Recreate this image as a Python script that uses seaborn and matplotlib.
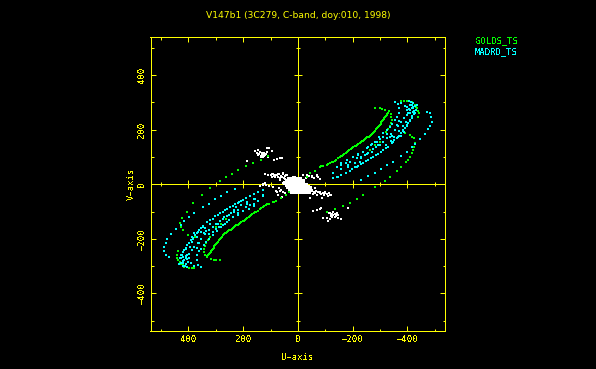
import matplotlib

matplotlib.use("Agg")
import matplotlib.pyplot as plt
import pandas as pd
import seaborn as sns

title = "V147b1 (3C279, C-band, doy:010, 1998)"
major_ticks = [-400, -200, 0, 200, 400]
minor_ticks = [-500, -300, -100, 100, 300, 500]

# GOLDS_TS
gold_u = [
    -32, -44, -62, -80, -92, -105, -117, -129, -139, -147, -157, -166, -175, -184, -193, -202, -211, -220,
    -229, -238, -246, -254, -262, -269, -277, -285, -292, -299, -305, -311, -316, -321, -327, -333,
    -318, -308, -299, -282, -338, -341, -343, -340, -336, -329, -321,
    -378, -388, -397, -406, -415, -421, -427, -432, -436, -440, -443, -439,
    -282, -319, -336, -360, -378, -394, -402, -409, -416, -421, -425, -427, -425, -418, -409, -391,
    -263, -281, -299, -238, -217, -190, -163, -135, -105,
    32, 44, 62, 80, 92, 105, 117, 129, 139, 147, 157, 166, 175, 184, 193, 202, 211, 220,
    229, 238, 246, 254, 262, 269, 277, 285, 292, 299, 305, 311, 316, 321, 327, 333,
    318, 308, 299, 285, 338, 341, 343, 340, 336, 329, 321,
    378, 388, 397, 406, 415, 421, 427, 432, 436, 440, 443, 439,
    321, 285, 264, 242, 218, 191, 165, 136, 108,
    351, 382, 406, 424, 431, 427, 418, 400, 376, 263, 281, 299,
]
gold_v = [
    28, 40, 50, 62, 66, 71, 77, 83, 90, 98, 102, 108, 116, 123, 130, 136, 142, 148,
    154, 160, 166, 172, 178, 183, 192, 202, 210, 218, 227, 236, 243, 251, 259, 267,
    273, 276, 278, 278, 258, 247, 236, 225, 214, 204, 193,
    307, 307, 307, 305, 302, 297, 291, 285, 279, 270, 260, 245,
    -11, 12, 25, 49, 62, 80, 90, 101, 113, 126, 138, 150, 168, 175, 180, 189,
    126, 144, 156, -40, -54, -67, -80, -92, -103,
    -28, -40, -50, -62, -66, -71, -77, -83, -90, -98, -102, -108, -116, -123, -130, -136, -142, -148,
    -154, -160, -166, -172, -178, -183, -192, -202, -210, -218, -227, -236, -243, -251, -259, -267,
    -273, -276, -278, -278, -258, -247, -236, -225, -214, -204, -193,
    -307, -307, -307, -305, -302, -297, -291, -285, -279, -270, -260, -245,
    -14, 13, 26, 38, 51, 67, 79, 89, 104,
    -39, -70, -100, -125, -143, -156, -168, -186, -192, -126, -144, -156,
]
# the solid stretch of the brightest green arc, both sides
gold_solid_u = [
    -86, -111, -123, -134, -152, -161, -170, -180, -188, -198, -207, -216, -225, -234, -242, -250, -258, -266,
    -273, -281, -289, -296, -302, -308, -314, -319, -324, -330,
    86, 111, 123, 134, 152, 161, 170, 180, 188, 198, 207, 216, 225, 234, 242, 250, 258, 266,
    273, 281, 289, 296, 302, 308, 314, 319, 324, 330,
]
gold_solid_v = [
    66, 74, 80, 86, 100, 105, 112, 120, 126, 133, 139, 145, 151, 157, 163, 169, 175, 180,
    187, 197, 206, 214, 222, 232, 240, 247, 255, 263,
    -66, -74, -80, -86, -100, -105, -112, -120, -126, -133, -139, -145, -151, -157, -163, -169, -175, -180,
    -187, -197, -206, -214, -222, -232, -240, -247, -255, -263,
]

# MADRD_TS
madrid_u = [
    -129, -144, -159, -175, -190, -208, -220, -238, -257, -275, -293, -311, -321, -330, -345, -352, -360, -368,
    -376, -383, -390, -397, -403, -409, -415, -423, -431, -427, -421, -409, -415, -427, -409, -397, -382,
    -354, -366, -370, -369, -360, -354, -344, -336, -324, -311, -297, -281, -265, -251, -236, -220, -202, -190,
    -175, -159, -144,
    -378, -391, -397, -397, -388, -378, -366, -354, -338, -324, -309, -293, -275, -257, -245, -232, -217, -184,
    -159, -129, -472, -482, -487, -488, -482, -476, -463, -445, -427, -415, -399, -378, -348, -326, -303,
    -281, -257, -230,
    129, 144, 159, 175, 190, 208, 220, 238, 257, 275, 293, 311, 321, 330, 345, 352, 360, 368,
    376, 383, 390, 397, 403, 409, 415, 423, 431, 427, 421, 409, 415, 427, 409, 397, 382,
    354, 366, 370, 369, 360, 354, 344, 336, 324, 311, 297, 281, 265, 251, 236, 220, 202, 190,
    175, 159, 144,
    378, 391, 397, 397, 388, 378, 366, 354, 338, 324, 309, 293, 275, 257, 245, 232, 217, 184,
    159, 129, 472, 482, 487, 488, 482, 476, 463, 445, 427, 415, 399, 378, 348, 326, 303,
    281, 257, 230,
]
madrid_v = [
    22, 28, 34, 42, 50, 62, 67, 79, 89, 101, 111, 126, 132, 138, 153, 161, 169, 178,
    187, 196, 205, 215, 224, 232, 242, 258, 272, 287, 299, 291, 279, 260, 236, 217, 199,
    303, 295, 279, 260, 245, 236, 221, 211, 199, 187, 172, 156, 144, 132, 120, 107, 99, 83,
    77, 71, 62,
    299, 287, 272, 254, 242, 230, 214, 199, 184, 169, 156, 144, 128, 116, 107, 101, 95, 71,
    55, 43, 266, 260, 245, 230, 215, 201, 184, 165, 148, 136, 120, 104, 83, 71, 55,
    43, 30, 16,
    -22, -28, -34, -42, -50, -62, -67, -79, -89, -101, -111, -126, -132, -138, -153, -161, -169, -178,
    -187, -196, -205, -215, -224, -232, -242, -258, -272, -287, -299, -291, -279, -260, -236, -217, -199,
    -303, -295, -279, -260, -245, -236, -221, -211, -199, -187, -172, -156, -144, -132, -120, -107, -99, -83,
    -77, -71, -62,
    -299, -287, -272, -254, -242, -230, -214, -199, -184, -169, -156, -144, -128, -116, -107, -101, -95, -71,
    -55, -43, -266, -260, -245, -230, -215, -201, -184, -165, -148, -136, -120, -104, -83, -71, -55,
    -43, -30, -16,
]
# loose dots between the cyan arcs and the dense part of the main arc
madrid_extra_u = [
    -257, -272, -287, -299, -311, -326, -336, -311, -299, -285, -269, -251, -220, -200, -232, -178, -184, -156,
    -129, -159, -208, -226, -348, -366, -378, -342, -370, -360, -387, -421, -409, -403, -421, -433,
    -425, -420, -418, -412, -405, -400, -405, -410, -418, -395, -385, -370, -352, -338, -322, -302, -284, -266,
    -248, -229, -214, -199, -175, -145,
    257, 272, 287, 299, 311, 326, 336, 311, 299, 285, 269, 251, 220, 200, 232, 178, 184, 156,
    129, 159, 208, 226, 348, 366, 378, 342, 370, 360, 387, 421, 409, 403, 421, 433,
    425, 420, 418, 412, 405, 400, 405, 410, 418, 395, 385, 370, 352, 338, 322, 302, 284, 266,
    248, 229, 214, 199, 175, 145,
]
madrid_extra_v = [
    138, 148, 156, 165, 175, 184, 172, 156, 144, 135, 120, 111, 111, 99, 95, 89, 65, 55,
    40, 79, 77, 83, 156, 175, 177, 177, 233, 217, 193, 266, 272, 260, 285, 291,
    270, 280, 290, 300, 305, 285, 275, 262, 250, 230, 212, 195, 175, 160, 145, 118, 106, 95,
    84, 73, 64, 56, 42, 28,
    -138, -148, -156, -165, -175, -184, -172, -156, -144, -135, -120, -111, -111, -99, -95, -89, -65, -55,
    -40, -79, -77, -83, -156, -175, -177, -177, -233, -217, -193, -266, -272, -260, -285, -291,
    -270, -280, -290, -300, -305, -285, -275, -262, -250, -230, -212, -195, -175, -160, -145, -118, -106, -95,
    -84, -73, -64, -56, -42, -28,
]

# white clumps (source structure)
white_u = [
    157, 147, 139, 130, 123, 114, 106, 114, 96, 145, 136, 126, 108, 132, 120, 87, 78, 66, 57, 185,
    120, 108, 96, 84, 72, 53, 44, 59, 47, 65, 53, 35, 23, 11, -1, -13, 23, 11, -1, -13, 35, 23, 11, -1, -13,
    -26, -38, -50, -62, 17, -7, -32, -44, -62, -80, -99, -117, -87, -44, -32, -50, -68, -74, -20,
    78, 66, 53, 72, 59, 47, 126, 139, 120, 126, 29, 17, 5, -7, -19, 29, 5, -19, 41, -25, 30, 18,
    -92, -105, -117, -129, -141, -147, -135, -123, -111, -117, -147, -159, -129, -119, -56, -68, -80, -86, -184,
    141, 128, 118, 135, 125, 150, 110, -125, -135, -128, -138, -122, -113, -143,
    100, 92, 86, 78, 70, 62, 55, 48, 40, 95, 82, 74, 66, 58, 50,
    -50, -58, -66, -74, -82, -90, -98, -106, -114, -122, -56, -70, -84, -96, -110,
    60, 70, 80, 90, 105, 118, 128, -30, -40, -50, -60, -70, -80,
]
white_v = [
    123, 126, 120, 111, 116, 132, 134, 120, 123, 107, 101, 101, 104, 116, 107, 89, 93, 95, 96, 85,
    38, 34, 38, 34, 38, 43, 34, 25, 18, 16, 3, 3, 9, 16, 13, 9, -6, -3, -3, -6, -15, -19, -19, -15, -15,
    -19, -15, -21, -15, -27, -27, -33, -33, -33, -33, -33, -39, -52, -52, 34, 30, 34, 25, 34,
    -27, -24, -27, -39, -46, -33, -3, -6, 3, -21, 2, 3, 5, 4, 2, -11, -10, -9, -8, -8, -27, -30,
    -125, -125, -106, -103, -106, -113, -119, -119, -133, -129, -125, -129, -113, -113, -97, -94, -91, -87, -86,
    110, 108, 112, 103, 105, 115, 100, -108, -110, -102, -115, -118, -104, -109,
    33, 36, 30, 33, 37, 31, 36, 30, 33, 28, 27, 28, 24, 25, 24,
    -24, -28, -26, -30, -28, -32, -30, -34, -33, -38, -36, -38, -36, -40, -42,
    -20, -15, -25, -10, -5, -2, 0, 24, 30, 26, 22, 30, 18,
]
# the filled middle of the centre clump
white_core_u = [
    31, 23, 13, 7, -3, -9,
    41, 32, 25, 15, 9, 1, -8, -17,
    46, 36, 30, 20, 13, 4, -3, -10, -20,
    40, 33, 23, 17, 7, 0, -9, -15, -25, -31,
    37, 27, 21, 11, 5, -5, -11, -21, -27, -37, -43,
    29, 23, 13, 7, -3, -9, -19, -25, -35,
    21, 11, 5, -4, -13, -25, -41,
]
white_core_v = [
    21, 19, 22, 20, 21, 19,
    13, 11, 12, 13, 11, 12, 13, 11,
    5, 3, 4, 5, 3, 4, 5, 3, 4,
    -3, -5, -4, -3, -5, -4, -3, -5, -4, -3,
    -11, -13, -12, -11, -13, -12, -11, -13, -12, -11, -13,
    -19, -21, -20, -19, -21, -20, -19, -21, -20,
    -27, -29, -28, -27, -29, -28, -27,
]

yellow = "#ffff00"
green = "#00ff00"
cyan = "#00ffff"

sns.set_theme(style="dark", rc={"axes.facecolor": "black", "figure.facecolor": "black"})
plt.rcParams["font.family"] = ["DejaVu Sans Mono"]
plt.rcParams["text.antialiased"] = False
plt.rcParams["lines.antialiased"] = False
plt.rcParams["patch.antialiased"] = False

fig = plt.figure(figsize=(5.96, 3.69), dpi=100)
ax = fig.add_axes([150.5 / 596, 1 - 331.3 / 369, 294.8 / 596, 294 / 369])

df_white = pd.DataFrame({"u": white_u, "v": white_v})
df_core = pd.DataFrame({"u": white_core_u, "v": white_core_v})
df_gold = pd.DataFrame({"u": gold_u + gold_solid_u, "v": gold_v + gold_solid_v})
df_madrid = pd.DataFrame({"u": madrid_u + madrid_extra_u, "v": madrid_v + madrid_extra_v})
sns.scatterplot(data=df_white, x="u", y="v", color="white", marker="s", s=4.5, linewidth=0, ax=ax, zorder=2,
                antialiased=False)
sns.scatterplot(data=df_core, x="u", y="v", color="white", marker="s", s=8, linewidth=0, ax=ax, zorder=2,
                antialiased=False)
sns.scatterplot(data=df_gold, x="u", y="v", color=green, marker="s", s=2.2, linewidth=0, ax=ax, zorder=3,
                antialiased=False)
sns.scatterplot(data=df_madrid, x="u", y="v", color=cyan, marker="s", s=2.2, linewidth=0, ax=ax, zorder=4,
                antialiased=False)

ax.set_xlim(538, -538)
ax.set_ylim(-539, 539)
ax.axhline(0, color=yellow, lw=0.72, zorder=1)
ax.axvline(0, color=yellow, lw=0.72, zorder=1)

# ticks along the two zero lines
ax.plot(major_ticks, [0] * 5, ls="", marker="|", ms=6, mew=0.72, color=yellow, zorder=1)
ax.plot([0] * 5, major_ticks, ls="", marker="_", ms=6, mew=0.72, color=yellow, zorder=1)
ax.plot(minor_ticks, [0] * 6, ls="", marker="|", ms=3, mew=0.72, color=yellow, zorder=1)
ax.plot([0] * 6, minor_ticks, ls="", marker="_", ms=3, mew=0.72, color=yellow, zorder=1)

ax.set_xticks(major_ticks)
ax.set_yticks(major_ticks)
ax.set_xticks(minor_ticks, minor=True)
ax.set_yticks(minor_ticks, minor=True)
ax.set_xticklabels(["\u2212400", "\u2212200", "0", "200", "400"])
ax.set_yticklabels(["\u2212400", "\u2212200", "0", "200", "400"], rotation=90, va="center")
ax.tick_params(which="major", direction="in", length=3.5, width=0.72, color=yellow, labelcolor=yellow,
               labelsize=6.5, top=True, right=True, bottom=True, left=True, pad=3)
ax.tick_params(which="minor", direction="in", length=1.8, width=0.72, color=yellow,
               top=True, right=True, bottom=True, left=True)
ax.grid(False)
for side in ax.spines.values():
    side.set_color(yellow)
    side.set_linewidth(0.72)

ax.set_xlabel("U\u2212axis", color=yellow, fontsize=6.5, labelpad=6.5)
ax.set_ylabel("V\u2212axis", color=yellow, fontsize=6.5, labelpad=1)

title_text = fig.text(298 / 596, 1 - 16 / 369, title, color=yellow, fontsize=6.6, family="DejaVu Sans",
                      ha="center", va="center")
title_text.set_antialiased(True)
fig.text(475 / 596, 1 - 41 / 369, "GOLDS_TS", color=green, fontsize=6.5, ha="left", va="center")
fig.text(475 / 596, 1 - 52 / 369, "MADRD_TS", color=cyan, fontsize=6.5, ha="left", va="center")

fig.savefig("out.png", dpi=100, facecolor="black")
